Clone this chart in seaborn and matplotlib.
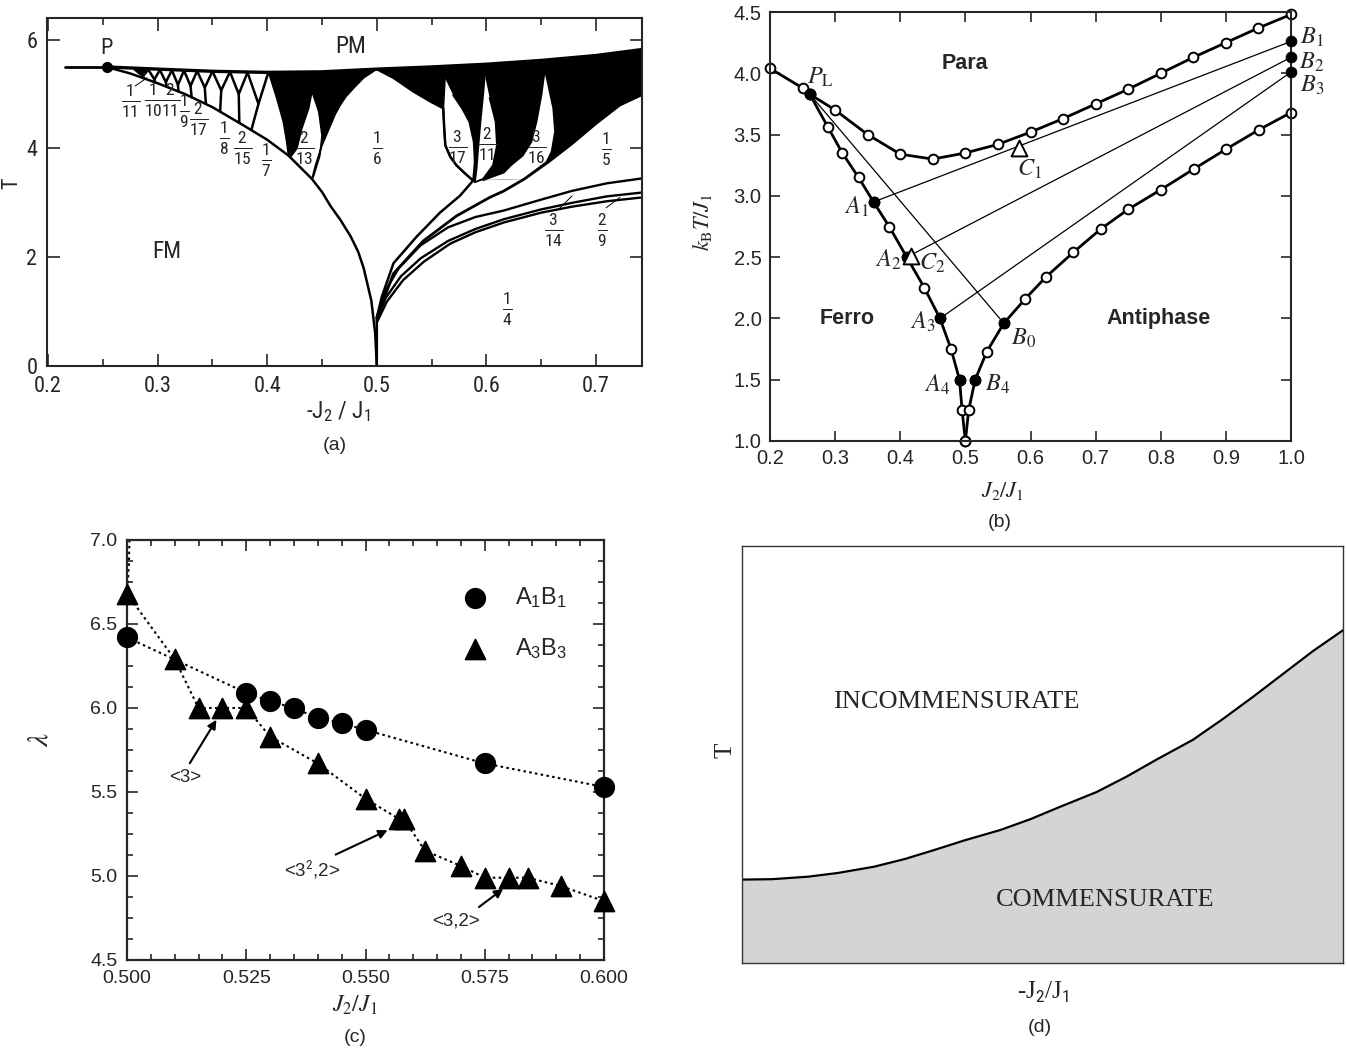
import numpy as np
import matplotlib
matplotlib.use('Agg')
import matplotlib.pyplot as plt
from matplotlib import font_manager
from matplotlib.ticker import MultipleLocator, FormatStrFormatter
import seaborn as sns

W, H = 1347, 1057

# ---------------- (a) ANNNI-like phase diagram ----------------
a_lead_x = [0.215, 0.2533]
a_lead_y = [5.50, 5.50]
a_p_x = [0.2533]
a_p_y = [5.50]
a_top_x = [0.2533, 0.30, 0.35, 0.40, 0.45, 0.50, 0.55, 0.60, 0.65, 0.70, 0.742]
a_top_y = [5.50, 5.46, 5.42, 5.40, 5.41, 5.46, 5.50, 5.55, 5.62, 5.71, 5.82]
a_fm_x = [0.2533, 0.275, 0.30, 0.325, 0.35, 0.3779, 0.40, 0.4194, 0.4408, 0.450, 0.4578, 0.467, 0.4762, 0.483, 0.488, 0.495, 0.4985, 0.5]
a_fm_y = [5.50, 5.38, 5.20, 5.00, 4.76, 4.43, 4.16, 3.87, 3.44, 3.20, 2.94, 2.68, 2.38, 2.10, 1.80, 1.20, 0.60, 0.0]
# left comb: lobe apexes on the top line, forks and stalk feet on the FM line
a_apex_x = [0.279, 0.2915, 0.302, 0.313, 0.324, 0.336, 0.350, 0.366, 0.382, 0.401]
a_apex_y = [5.455, 5.45, 5.445, 5.44, 5.435, 5.425, 5.42, 5.41, 5.40, 5.40]
a_fork_x = [0.2865, 0.297, 0.3075, 0.3185, 0.330, 0.343, 0.358, 0.374, 0.392]
a_fork_y = [5.33, 5.27, 5.22, 5.17, 5.15, 5.12, 5.07, 5.00, 4.82]
a_stalk_x = [0.2875, 0.2975, 0.308, 0.319, 0.331, 0.344, 0.357, 0.3745, 0.3855]
a_stalk_y = [5.29, 5.22, 5.14, 5.05, 4.94, 4.82, 4.68, 4.47, 4.34]
# lobe edges in the middle part
a_l17_x = [0.401, 0.4025, 0.4086, 0.4147, 0.4178, 0.4194]
a_l17_y = [5.40, 5.32, 4.93, 4.49, 4.12, 3.87]
a_l213l_x = [0.4408, 0.4378, 0.4316, 0.427, 0.4215]
a_l213l_y = [5.05, 4.74, 4.37, 4.00, 3.85]
a_l213r_x = [0.4408, 0.447, 0.450, 0.448, 0.4424, 0.4408]
a_l213r_y = [5.05, 4.68, 4.24, 3.87, 3.50, 3.44]
a_l16l_x = [0.5, 0.488, 0.4793, 0.472, 0.467, 0.462, 0.4578, 0.454, 0.45, 0.444, 0.4408]
a_l16l_y = [5.46, 5.30, 5.12, 4.96, 4.81, 4.63, 4.43, 4.25, 4.06, 3.69, 3.44]
# right part
a_r16_x = [0.5, 0.5152, 0.5333, 0.5485, 0.5606, 0.5615, 0.5625, 0.567, 0.5727, 0.580, 0.5879]
a_r16_y = [5.46, 5.30, 5.05, 4.87, 4.74, 4.37, 4.06, 3.85, 3.69, 3.55, 3.41]
a_stem_x = [0.5879, 0.5758, 0.5576, 0.5364, 0.5152, 0.5045, 0.5, 0.5]
a_stem_y = [3.41, 3.13, 2.82, 2.38, 1.89, 1.27, 0.89, 0.0]
a_c5_x = [0.5, 0.5152, 0.5424, 0.5727, 0.603, 0.616, 0.6347, 0.6564, 0.6782, 0.70, 0.7218, 0.742]
a_c5_y = [0.89, 1.70, 2.30, 2.76, 3.10, 3.22, 3.44, 3.75, 4.09, 4.46, 4.80, 4.99]
a_lobe_floor_x = 0.6347
a_k3_x = [0.5, 0.507, 0.52, 0.54, 0.565, 0.59, 0.616, 0.65, 0.678, 0.71, 0.742]
a_k3_y = [0.89, 1.35, 1.80, 2.22, 2.55, 2.74, 2.86, 3.06, 3.22, 3.36, 3.45]
a_k4_x = [0.5, 0.508, 0.522, 0.54, 0.565, 0.59, 0.616, 0.65, 0.678, 0.71, 0.742]
a_k4_y = [0.85, 1.25, 1.65, 1.98, 2.30, 2.52, 2.70, 2.88, 3.00, 3.12, 3.19]
a_k5_x = [0.5, 0.509, 0.524, 0.543, 0.567, 0.59, 0.616, 0.65, 0.678, 0.71, 0.742]
a_k5_y = [0.80, 1.18, 1.58, 1.92, 2.25, 2.46, 2.64, 2.82, 2.93, 3.03, 3.10]
a_w317_x = [0.5621, 0.5606, 0.5615, 0.5625, 0.567, 0.5727, 0.580, 0.5879, 0.5894, 0.5885, 0.5845, 0.5775, 0.5697]
a_w317_y = [5.30, 4.74, 4.37, 4.06, 3.85, 3.69, 3.55, 3.41, 3.75, 4.12, 4.49, 4.75, 4.98]
a_w211_x = [0.5985, 0.597, 0.5945, 0.5924, 0.5909, 0.5894, 0.597, 0.6061, 0.6097, 0.6085, 0.603]
a_w211_y = [5.36, 5.00, 4.49, 4.00, 3.62, 3.38, 3.44, 3.69, 4.06, 4.49, 4.93]
a_w316_x = [0.597, 0.616, 0.6222, 0.6331, 0.6409, 0.6456, 0.6502, 0.6533, 0.6564, 0.6611, 0.6627, 0.6596, 0.6549, 0.6347]
a_w316_y = [3.42, 3.56, 3.69, 3.87, 4.12, 4.49, 4.99, 5.46, 5.18, 4.74, 4.31, 3.94, 3.75, 3.44]
a_frac = ['1/11', '1/10', '2/11', '1/9', '2/17', '1/8', '2/15', '1/7', '2/13', '1/6',
          '3/17', '2/11', '3/16', '1/5', '3/14', '2/9', '1/4']
a_frac_x = [0.275, 0.2962, 0.3118, 0.3247, 0.337, 0.3606, 0.3774, 0.3989, 0.4341, 0.5,
            0.5735, 0.6007, 0.6456, 0.7093, 0.6611, 0.7062, 0.6195]
a_frac_y = [4.87, 4.90, 4.90, 4.70, 4.54, 4.20, 4.01, 3.79, 4.01, 4.01,
            4.03, 4.09, 4.03, 3.99, 2.51, 2.51, 1.06]
a_leader_x = [[0.2795, 0.2903], [0.6658, 0.6782], [0.7093, 0.7218]]
a_leader_y = [[5.15, 5.30], [2.88, 3.13], [2.91, 3.10]]

# ---------------- (b) J1-J2 phase diagram ----------------
b_up_x = [0.2, 0.25, 0.261, 0.30, 0.35, 0.40, 0.45, 0.50, 0.55, 0.60, 0.65, 0.70, 0.75, 0.80, 0.85, 0.90, 0.95, 1.0]
b_up_y = [4.04, 3.88, 3.83, 3.70, 3.50, 3.34, 3.30, 3.35, 3.42, 3.52, 3.63, 3.75, 3.87, 4.00, 4.13, 4.25, 4.37, 4.48]
b_left_x = [0.261, 0.289, 0.311, 0.336, 0.359, 0.383, 0.410, 0.437, 0.461, 0.478, 0.491, 0.495, 0.500]
b_left_y = [3.83, 3.56, 3.35, 3.15, 2.95, 2.75, 2.50, 2.25, 2.00, 1.75, 1.50, 1.25, 1.00]
b_right_x = [0.500, 0.505, 0.515, 0.533, 0.559, 0.592, 0.624, 0.666, 0.708, 0.750, 0.800, 0.851, 0.900, 0.951, 1.0]
b_right_y = [1.00, 1.25, 1.50, 1.73, 1.96, 2.16, 2.34, 2.54, 2.73, 2.89, 3.05, 3.22, 3.38, 3.54, 3.68]
b_pt_name = ['PL', 'A1', 'A2', 'A3', 'A4', 'B0', 'B1', 'B2', 'B3', 'B4']
b_pt_x = [0.261, 0.359, 0.410, 0.461, 0.491, 0.559, 1.0, 1.0, 1.0, 0.515]
b_pt_y = [3.83, 2.95, 2.50, 2.00, 1.50, 1.96, 4.26, 4.13, 4.01, 1.50]
b_ties = [('PL', 'B0'), ('A1', 'B1'), ('A2', 'B2'), ('A3', 'B3')]
b_tri_x = [0.583, 0.417]
b_tri_y = [3.39, 2.51]
b_lab = [r'$P_{\mathrm{L}}$', r'$A_1$', r'$A_2$', r'$C_2$', r'$A_3$', r'$B_0$', r'$A_4$', r'$B_4$',
         r'$C_1$', r'$B_1$', r'$B_2$', r'$B_3$']
b_lab_x = [0.278, 0.332, 0.382, 0.449, 0.434, 0.589, 0.457, 0.549, 0.598, 1.032, 1.032, 1.032]
b_lab_y = [3.97, 2.91, 2.48, 2.45, 1.97, 1.84, 1.46, 1.46, 3.22, 4.29, 4.09, 3.90]
b_region = ['Para', 'Ferro', 'Antiphase']
b_region_x = [0.50, 0.3185, 0.796]
b_region_y = [4.08, 2.00, 2.00]

# ---------------- (c) lambda vs J2/J1 ----------------
c_a1b1_x = [0.500, 0.525, 0.530, 0.535, 0.540, 0.545, 0.550, 0.575, 0.600]
c_a1b1_y = [6.42, 6.09, 6.04, 6.00, 5.94, 5.91, 5.87, 5.67, 5.53]
c_a3b3_x = [0.500, 0.510, 0.515, 0.520, 0.525, 0.530, 0.540, 0.550, 0.557, 0.558,
            0.5625, 0.570, 0.575, 0.580, 0.584, 0.591, 0.600]
c_a3b3_y = [6.68, 6.29, 6.00, 6.00, 6.00, 5.83, 5.67, 5.46, 5.34, 5.34,
            5.15, 5.06, 4.99, 4.99, 4.99, 4.94, 4.85]
c_tail_x = [0.5005, 0.5004, 0.5]
c_tail_y = [7.0, 6.85, 6.68]
c_note = ['<3>', r'<3$^2$,2>', '<3,2>']
c_note_x = [0.5121, 0.5388, 0.5689]
c_note_y = [5.587, 5.035, 4.735]
c_head_x = [0.5189, 0.5549, 0.5791]
c_head_y = [5.937, 5.276, 4.929]
c_relx = [0.55, 0.75, 0.85]

# ---------------- (d) schematic ----------------
d_x = [0, 0.05, 0.11, 0.16, 0.22, 0.27, 0.32, 0.37, 0.43, 0.48, 0.53, 0.59, 0.64, 0.69, 0.75, 0.80, 0.85, 0.90, 0.95, 1.0]
d_y = [0.200, 0.201, 0.207, 0.216, 0.231, 0.249, 0.271, 0.294, 0.319, 0.345, 0.375, 0.410, 0.447, 0.488, 0.535, 0.585, 0.638, 0.693, 0.748, 0.798]

# ---------------- style ----------------
sns.set_style('ticks')
installed = {f.name for f in font_manager.fontManager.ttflist}
narrow = next((f for f in ['Liberation Sans Narrow', 'Roboto Condensed', 'DejaVu Sans'] if f in installed), 'DejaVu Sans')
plt.rcParams['font.family'] = ['Liberation Sans', 'DejaVu Sans']
plt.rcParams['mathtext.fontset'] = 'custom'
plt.rcParams['mathtext.rm'] = narrow
plt.rcParams['mathtext.it'] = narrow + ':italic'
plt.rcParams['mathtext.bf'] = narrow + ':bold'

fig = plt.figure(figsize=(W / 100, H / 100), dpi=100)


def box(l, t, r, b):
    return [l / W, 1 - b / H, (r - l) / W, (b - t) / H]


def ftext(px, py, s, **kw):
    fig.text(px / W, 1 - py / H, s, ha='center', va='center', **kw)


ax_a = fig.add_axes(box(47, 18, 642, 366))
ax_b = fig.add_axes(box(770, 12, 1291, 441))
ax_c = fig.add_axes(box(127, 540, 604, 960))
ax_d = fig.add_axes(box(742, 546, 1343, 963))

# ================= (a) =================
ax = ax_a
ax.set_xlim(0.199, 0.742)
ax.set_ylim(0, 6.4)
blk = dict(color='black', lw=1.8, solid_capstyle='round')

ax.fill([a_apex_x[0], a_fork_x[0], a_apex_x[1]], [a_apex_y[0], a_fork_y[0], a_apex_y[1]],
        color='black', lw=0)
sel = [(x, y) for x, y in zip(a_top_x, a_top_y) if a_l17_x[0] < x < a_l16l_x[0]]
poly = ([(a_l17_x[0], a_l17_y[0])] + sel + list(zip(a_l16l_x, a_l16l_y))
        + list(zip(a_l213r_x, a_l213r_y))[::-1] + list(zip(a_l213l_x, a_l213l_y))
        + list(zip(a_l17_x, a_l17_y))[::-1])
px_, py_ = zip(*poly)
ax.fill(px_, py_, facecolor='black', edgecolor='black', lw=1.2)

sel_r = [(x, y) for x, y in zip(a_top_x, a_top_y) if x >= a_r16_x[0]]
c5_part = [(x, y) for x, y in zip(a_c5_x, a_c5_y) if x >= a_lobe_floor_x][::-1]
poly_r = sel_r + c5_part + list(zip(a_r16_x, a_r16_y))[::-1]
px_, py_ = zip(*poly_r)
ax.fill(px_, py_, facecolor='black', edgecolor='none', clip_on=False)
for wx, wy in [(a_w317_x, a_w317_y), (a_w211_x, a_w211_y), (a_w316_x, a_w316_y)]:
    ax.fill(wx, wy, facecolor='white', edgecolor='none')
    ax.plot(wx, wy, color='black', lw=1.4)

for i in range(len(a_fork_x)):
    ax.plot([a_apex_x[i], a_fork_x[i], a_apex_x[i + 1]], [a_apex_y[i], a_fork_y[i], a_apex_y[i + 1]], **blk)
    ax.plot([a_fork_x[i], a_stalk_x[i]], [a_fork_y[i], a_stalk_y[i]], **blk)

for xs, ys, lw in [(a_lead_x, a_lead_y, 2.0), (a_top_x, a_top_y, 2.4), (a_fm_x, a_fm_y, 1.8),
                   (a_r16_x, a_r16_y, 1.8), (a_stem_x, a_stem_y, 1.8), (a_c5_x, a_c5_y, 2.0),
                   (a_k3_x, a_k3_y, 1.7), (a_k4_x, a_k4_y, 1.7), (a_k5_x, a_k5_y, 1.7)]:
    sns.lineplot(x=xs, y=ys, sort=False, estimator=None, ax=ax, color='black', linewidth=lw)
ax.plot(a_p_x, a_p_y, 'o', color='black', ms=7)
for lx, ly in zip(a_leader_x, a_leader_y):
    ax.plot(lx, ly, color='black', lw=0.7)

for t, x, y in zip(a_frac, a_frac_x, a_frac_y):
    n, d = t.split('/')
    ax.text(x, y, r'$\frac{%s}{%s}$' % (n, d), fontsize=18, ha='center', va='center')
ax.text(0.2534, 5.83, 'P', fontsize=16, ha='center', va='center', family=narrow)
ax.text(0.476, 5.87, 'PM', fontsize=17, ha='center', va='center', family=narrow)
ax.text(0.3085, 2.10, 'FM', fontsize=17, ha='center', va='center', family=narrow)

ax.xaxis.set_major_locator(MultipleLocator(0.1))
ax.xaxis.set_minor_locator(MultipleLocator(0.05))
ax.xaxis.set_major_formatter(FormatStrFormatter('%.1f'))
ax.yaxis.set_major_locator(MultipleLocator(2))
ax.tick_params(which='both', direction='in', top=True, right=True, width=1.2,
               labelsize=16, labelfontfamily=narrow, pad=7)
ax.tick_params(which='major', length=9)
ax.tick_params(which='minor', length=5)
for s in ax.spines.values():
    s.set_linewidth(1.5)
ax.set_xlabel('')
ax.set_ylabel('')
ftext(12, 183, 'T', fontsize=16, rotation=90, family=narrow)
ftext(338, 412, r'-J$_2$ / J$_1$', fontsize=17, family=narrow)
ftext(335, 446, '(a)', fontsize=14)

# ================= (b) =================
ax = ax_b
ax.set_xlim(0.2, 1.0)
ax.set_ylim(1.0, 4.5)
pos = dict(zip(b_pt_name, zip(b_pt_x, b_pt_y)))
for p0, p1 in b_ties:
    ax.plot([pos[p0][0], pos[p1][0]], [pos[p0][1], pos[p1][1]], color='black', lw=0.9)
for xs, ys in [(b_up_x, b_up_y), (b_left_x, b_left_y), (b_right_x, b_right_y)]:
    sns.lineplot(x=xs, y=ys, sort=False, estimator=None, ax=ax, color='black', linewidth=2.0,
                 marker='o', markersize=7, markerfacecolor='white', markeredgecolor='black',
                 markeredgewidth=1.4, clip_on=False)
sns.scatterplot(x=b_pt_x, y=b_pt_y, ax=ax, color='black', edgecolor='black', s=60, zorder=5, clip_on=False)
sns.scatterplot(x=b_tri_x, y=b_tri_y, ax=ax, marker='^', s=130, facecolor='white', edgecolor='black',
                linewidth=1.4, zorder=5)
for t, x, y in zip(b_lab, b_lab_x, b_lab_y):
    ax.text(x, y, t, fontsize=17.5, ha='center', va='center', math_fontfamily='stix', clip_on=False)
for t, x, y in zip(b_region, b_region_x, b_region_y):
    ax.text(x, y, t, fontsize=15.5, ha='center', va='center', fontweight='bold')
ax.xaxis.set_major_locator(MultipleLocator(0.1))
ax.yaxis.set_major_locator(MultipleLocator(0.5))
ax.xaxis.set_major_formatter(FormatStrFormatter('%.1f'))
ax.yaxis.set_major_formatter(FormatStrFormatter('%.1f'))
ax.tick_params(direction='in', top=True, right=True, length=7, width=1.2, labelsize=14.5, pad=6)
for s in ax.spines.values():
    s.set_linewidth(1.5)
ax.set_xlabel('')
ax.set_ylabel('')
ftext(703, 222, r'$k_{\mathrm{B}}T/J_1$', fontsize=16, rotation=90, math_fontfamily='stix')
ftext(1002, 491, r'$J_2/J_1$', fontsize=16, math_fontfamily='stix')
ftext(1000, 523, '(b)', fontsize=14)

# ================= (c) =================
ax = ax_c
ax.set_xlim(0.5, 0.6)
ax.set_ylim(4.5, 7.0)
dot = (0, (1.2, 1.6))
sns.lineplot(x=c_a1b1_x, y=c_a1b1_y, sort=False, estimator=None, ax=ax, color='black',
             linewidth=1.5, linestyle=dot)
sns.lineplot(x=c_a3b3_x, y=c_a3b3_y, sort=False, estimator=None, ax=ax, color='black',
             linewidth=1.5, linestyle=dot)
ax.plot(c_tail_x, c_tail_y, color='black', lw=1.5, linestyle=dot, clip_on=False)
sns.scatterplot(x=c_a1b1_x, y=c_a1b1_y, ax=ax, marker='o', s=200, color='black', edgecolor='black',
                label=r'$\mathregular{A_1B_1}$', zorder=4, clip_on=False)
sns.scatterplot(x=c_a3b3_x, y=c_a3b3_y, ax=ax, marker='^', s=210, color='black', edgecolor='black',
                label=r'$\mathregular{A_3B_3}$', zorder=4, clip_on=False)
ax.legend(loc='upper left', bbox_to_anchor=(0.66, 0.915), frameon=False, fontsize=17,
          labelspacing=1.1, handletextpad=0.7, borderaxespad=0)
for t, x, y, hx, hy, rx in zip(c_note, c_note_x, c_note_y, c_head_x, c_head_y, c_relx):
    ax.annotate(t, xy=(hx, hy), xytext=(x, y), ha='center', va='center', fontsize=13.5,
                arrowprops=dict(arrowstyle='-|>', color='black', lw=1.5, mutation_scale=13,
                                shrinkA=2, shrinkB=1, relpos=(rx, 1.0)))
ax.xaxis.set_major_locator(MultipleLocator(0.025))
ax.xaxis.set_minor_locator(MultipleLocator(0.005))
ax.yaxis.set_major_locator(MultipleLocator(0.5))
ax.yaxis.set_minor_locator(MultipleLocator(0.125))
ax.xaxis.set_major_formatter(FormatStrFormatter('%.3f'))
ax.yaxis.set_major_formatter(FormatStrFormatter('%.1f'))
ax.tick_params(which='both', direction='in', top=True, right=True, width=1.2, labelsize=14, pad=7)
ax.tick_params(which='major', length=8)
ax.tick_params(which='minor', length=4)
for s in ax.spines.values():
    s.set_linewidth(1.6)
ax.set_xlabel('')
ax.set_ylabel('')
ftext(40, 740, r'$\lambda$', fontsize=21, rotation=90, math_fontfamily='stix')
ftext(355, 1005, r'$J_2/J_1$', fontsize=17, math_fontfamily='stix')
ftext(355, 1037, '(c)', fontsize=14)

# ================= (d) =================
ax = ax_d
ax.set_xlim(0, 1)
ax.set_ylim(0, 1)
ax.fill_between(d_x, d_y, 0, color='#d4d4d4', lw=0)
sns.lineplot(x=d_x, y=d_y, sort=False, estimator=None, ax=ax, color='black', linewidth=1.6)
ax.set_xticks([])
ax.set_yticks([])
ax.set_xlabel('')
ax.set_ylabel('')
for s in ax.spines.values():
    s.set_linewidth(1.0)
    s.set_color('#333333')
serif = ['Liberation Serif', 'DejaVu Serif']
ax.text(0.357, 0.627, 'INCOMMENSURATE', fontsize=19, ha='center', va='center', family=serif)
ax.text(0.604, 0.152, 'COMMENSURATE', fontsize=19, ha='center', va='center', family=serif)
ftext(726, 750, 'T', fontsize=18, rotation=90, family=serif)
ftext(1043, 992, r'-J$_2$/J$_1$', fontsize=18, family=serif)
ftext(1040, 1028, '(d)', fontsize=14)

fig.savefig('out.png', dpi=100)
